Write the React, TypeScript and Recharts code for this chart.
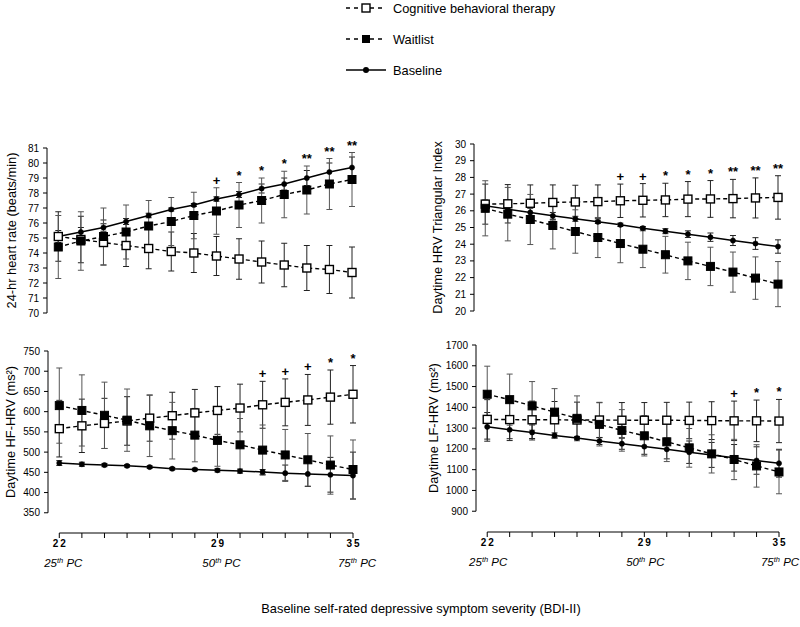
import { LineChart, Line, XAxis, YAxis, ErrorBar, LabelList, ReferenceLine } from 'recharts'

// baseline BDI-II score on the x axis, percentile labels under three of them
const bdi = [22, 23, 24, 25, 26, 27, 28, 29, 30, 31, 32, 33, 34, 35]
const percentileAt: Record<number, string> = { 22: '25', 29: '50', 35: '75' }

// 24-hr heart rate (beats/min)
const hrCbt = [75.1, 74.9, 74.7, 74.5, 74.3, 74.1, 74.0, 73.8, 73.6, 73.4, 73.2, 73.0, 72.9, 72.7]
const hrCbtErr = [1.65, 1.55, 1.5, 1.4, 1.35, 1.3, 1.3, 1.3, 1.35, 1.4, 1.45, 1.5, 1.6, 1.7]
const hrWl = [74.4, 74.8, 75.1, 75.4, 75.8, 76.1, 76.5, 76.8, 77.2, 77.5, 77.9, 78.2, 78.6, 78.9]
const hrWlErr = [2.1, 1.95, 1.9, 1.8, 1.7, 1.6, 1.55, 1.55, 1.5, 1.5, 1.55, 1.6, 1.7, 1.8]
const hrBase = [75.1, 75.4, 75.7, 76.1, 76.5, 76.9, 77.2, 77.6, 77.9, 78.3, 78.6, 79.0, 79.4, 79.7]
const hrBaseErr = [0.4, 0.3, 0.25, 0.2, 0.15, 0.1, 0.1, 0.15, 0.2, 0.3, 0.4, 0.5, 0.6, 0.7]
const hrSig = [null, null, null, null, null, null, null, '+', '*', '*', '*', '**', '**', '**']
const hrTicks = [70, 71, 72, 73, 74, 75, 76, 77, 78, 79, 80, 81]

// daytime HRV triangular index
const tiCbt = [26.4, 26.42, 26.45, 26.5, 26.53, 26.55, 26.6, 26.63, 26.65, 26.7, 26.71, 26.73, 26.77, 26.8]
const tiCbtErr = [1.2, 1.15, 1.1, 1.05, 1.0, 1.0, 1.0, 1.0, 1.0, 1.05, 1.1, 1.15, 1.2, 1.3]
const tiWl = [26.15, 25.8, 25.48, 25.12, 24.76, 24.4, 24.04, 23.7, 23.37, 23.0, 22.67, 22.33, 21.97, 21.61]
const tiWlErr = [1.65, 1.6, 1.5, 1.4, 1.3, 1.2, 1.15, 1.1, 1.1, 1.12, 1.15, 1.2, 1.27, 1.35]
const tiBase = [26.3, 26.1, 25.9, 25.7, 25.52, 25.34, 25.16, 24.96, 24.78, 24.6, 24.42, 24.22, 24.04, 23.86]
const tiBaseErr = [0.35, 0.3, 0.25, 0.2, 0.15, 0.1, 0.1, 0.1, 0.15, 0.2, 0.25, 0.3, 0.35, 0.4]
const tiSig = [null, null, null, null, null, null, '+', '+', '*', '*', '*', '**', '**', '**']
const tiTicks = [20, 21, 22, 23, 24, 25, 26, 27, 28, 29, 30]

// daytime HF-HRV (ms²)
const hfCbt = [558, 565, 571, 577, 584, 590, 597, 603, 609, 617, 623, 629, 636, 643]
const hfCbtErr = [70, 66, 62, 60, 57, 58, 58, 59, 59, 58, 58, 63, 67, 71]
const hfWl = [615, 603, 591, 579, 565, 553, 542, 529, 518, 505, 493, 481, 468, 457]
const hfWlErr = [93, 88, 82, 77, 76, 70, 66, 64, 65, 62, 63, 65, 72, 73]
const hfBase = [473, 470, 468, 466, 463, 459, 457, 455, 453, 451, 448, 446, 444, 442]
const hfBaseErr = [6, 5, 4, 3, 3, 3, 3, 4, 5, 6, 20, 31, 43, 58]
const hfSig = [null, null, null, null, null, null, null, null, null, '+', '+', '+', '*', '*']
const hfTicks = [350, 400, 450, 500, 550, 600, 650, 700, 750]

// daytime LF-HRV (ms²)
const lfCbt = [1342, 1341, 1340, 1340, 1339, 1339, 1338, 1338, 1338, 1337, 1336, 1335, 1335, 1334]
const lfCbtErr = [95, 92, 90, 88, 86, 85, 85, 85, 86, 88, 91, 95, 100, 104]
const lfWl = [1463, 1437, 1407, 1377, 1347, 1318, 1289, 1263, 1234, 1205, 1176, 1149, 1118, 1089]
const lfWlErr = [135, 123, 117, 113, 108, 104, 100, 97, 95, 93, 92, 97, 102, 105]
const lfBase = [1306, 1292, 1279, 1265, 1252, 1238, 1225, 1211, 1198, 1184, 1171, 1157, 1144, 1131]
const lfBaseErr = [69, 52, 36, 12, 8, 17, 27, 37, 46, 54, 60, 64, 66, 67]
const lfSig = [null, null, null, null, null, null, null, null, null, null, null, '+', '*', '*']
const lfTicks = [900, 1000, 1100, 1200, 1300, 1400, 1500, 1600, 1700]

const xDomain: [number, number] = [21.5, 35]
const INK = '#000'
const FONT = '"Liberation Sans", Arial, sans-serif'

function buildRows(cbt: number[], cbtErr: number[], wl: number[], wlErr: number[], base: number[], baseErr: number[], sig: (string | null)[]) {
  return bdi.map((x, i) => ({
    bdi: x,
    cbt: cbt[i],
    cbtErr: cbtErr[i],
    wl: wl[i],
    wlErr: wlErr[i],
    base: base[i],
    baseErr: baseErr[i],
    sig: sig[i],
    // significance marks sit just above the highest error bar
    sigTop: Math.max(cbt[i] + cbtErr[i], wl[i] + wlErr[i], base[i] + baseErr[i]),
  }))
}

function OpenSquare(p: any) {
  if (p.cx == null || p.cy == null) return null
  return <rect key={`o-${p.index}`} x={p.cx - 4} y={p.cy - 4} width={8} height={8} fill="#fff" stroke={INK} strokeWidth={1.4} />
}

function FilledSquare(p: any) {
  if (p.cx == null || p.cy == null) return null
  return <rect key={`f-${p.index}`} x={p.cx - 4} y={p.cy - 4} width={8} height={8} fill={INK} stroke={INK} strokeWidth={1} />
}

function BdiTick({ x, y, payload, pcShift }: any) {
  const pc = percentileAt[payload.value]
  if (!pc) return null
  return (
    <g transform={`translate(${x},${y})`}>
      <text textAnchor="middle" dx={1} dy="0.71em" fontSize={10} fontWeight="bold" letterSpacing={2} fill={INK}>
        {payload.value}
      </text>
      <text textAnchor="middle" dx={pcShift} y={27} fontSize={11.5} fontStyle="italic" fill={INK}>
        {pc}
        <tspan dy={-4} fontSize={7.5}>th</tspan>
        <tspan dy={4}> PC</tspan>
      </text>
    </g>
  )
}

function AxisTitle({ viewBox, text, dx, trimFrac }: any) {
  const cx = viewBox.x + dx
  const cy = viewBox.y + (viewBox.height * (1 - trimFrac)) / 2
  return (
    <text x={cx} y={cy} transform={`rotate(-90, ${cx}, ${cy})`} textAnchor="middle" dominantBaseline="central" fontSize={12.8} fill={INK}>
      {text}
    </text>
  )
}

type PanelProps = {
  data: ReturnType<typeof buildRows>
  left: number
  top: number
  height: number
  margin: { top: number; right: number; bottom: number; left: number }
  yAxisWidth: number
  yDomain: [number, number]
  yTicks: number[]
  title: string
  titleX: number
  withXAxis?: boolean
  pcShift?: number
}

function Panel({ data, left, top, height, margin, yAxisWidth, yDomain, yTicks, title, titleX, withXAxis, pcShift = 4 }: PanelProps) {
  // bottom panels leave a gap between the lowest y tick and the x axis
  const trimFrac = withXAxis ? (yTicks[0] - yDomain[0]) / (yDomain[1] - yDomain[0]) : 0
  return (
    <div style={{ position: 'absolute', left, top }}>
      <LineChart width={400} height={height} data={data} margin={margin}>
        {withXAxis ? (
          <XAxis
            type="number"
            dataKey="bdi"
            domain={xDomain}
            ticks={bdi}
            interval={0}
            axisLine={false}
            tickLine={{ stroke: INK }}
            tickSize={5}
            tickMargin={2}
            height={45}
            tick={(p: any) => <BdiTick {...p} pcShift={pcShift} />}
          />
        ) : (
          <XAxis type="number" dataKey="bdi" domain={xDomain} hide />
        )}
        <YAxis
          domain={yDomain}
          ticks={yTicks}
          interval={0}
          width={yAxisWidth}
          axisLine={withXAxis ? false : { stroke: INK }}
          tickLine={{ stroke: INK }}
          tickSize={4}
          tickMargin={4}
          tick={{ fontSize: 10, fill: INK }}
          label={{ content: (p: any) => <AxisTitle viewBox={p.viewBox} text={title} dx={titleX} trimFrac={trimFrac} /> }}
        />
        {withXAxis && (
          <ReferenceLine
            segment={[{ x: xDomain[0], y: yTicks[0] }, { x: xDomain[0], y: yTicks[yTicks.length - 1] }]}
            stroke={INK}
            ifOverflow="visible"
          />
        )}
        {withXAxis && (
          <ReferenceLine
            segment={[{ x: bdi[0], y: yDomain[0] }, { x: bdi[bdi.length - 1], y: yDomain[0] }]}
            stroke={INK}
            ifOverflow="visible"
          />
        )}
        <Line dataKey="base" stroke={INK} strokeWidth={1.5} dot={{ r: 2.6, fill: INK, stroke: INK, strokeWidth: 0.5 }} isAnimationActive={false}>
          <ErrorBar dataKey="baseErr" direction="y" width={3} stroke="#222" strokeWidth={1} />
        </Line>
        <Line dataKey="cbt" stroke={INK} strokeWidth={1.4} strokeDasharray="4 3" dot={OpenSquare} isAnimationActive={false}>
          <ErrorBar dataKey="cbtErr" direction="y" width={3} stroke="#222" strokeWidth={1} />
        </Line>
        <Line dataKey="wl" stroke={INK} strokeWidth={1.4} strokeDasharray="4 3" dot={FilledSquare} isAnimationActive={false}>
          <ErrorBar dataKey="wlErr" direction="y" width={3} stroke="#555" strokeWidth={1} />
        </Line>
        <Line dataKey="sigTop" stroke="none" dot={false} activeDot={false} isAnimationActive={false}>
          <LabelList dataKey="sig" position="top" offset={3} fill={INK} fontSize={13} fontWeight="bold" />
        </Line>
      </LineChart>
    </div>
  )
}

function LegendKey() {
  const rows = [
    { label: 'Cognitive behavioral therapy', kind: 'open', y: 8 },
    { label: 'Waitlist', kind: 'filled', y: 39 },
    { label: 'Baseline', kind: 'line', y: 70 },
  ]
  return (
    <svg width={800} height={90} style={{ position: 'absolute', left: 0, top: 0 }}>
      {rows.map((r) => (
        <g key={r.label}>
          <line x1={346} x2={386} y1={r.y} y2={r.y} stroke={INK} strokeWidth={1.5} strokeDasharray={r.kind === 'line' ? undefined : '4 4'} />
          {r.kind === 'open' && <rect x={362} y={r.y - 4} width={8} height={8} fill="#fff" stroke={INK} strokeWidth={1.4} />}
          {r.kind === 'filled' && <rect x={362} y={r.y - 4} width={8} height={8} fill={INK} />}
          {r.kind === 'line' && <circle cx={366} cy={r.y} r={3} fill={INK} />}
          <text x={393} y={r.y} dominantBaseline="central" fontSize={12.8} fill={INK}>
            {r.label}
          </text>
        </g>
      ))}
    </svg>
  )
}

export default function App() {
  return (
    <div style={{ position: 'absolute', left: 0, top: 0, width: 800, height: 627, background: '#fff', fontFamily: FONT }}>
      <LegendKey />
      <Panel
        data={buildRows(hrCbt, hrCbtErr, hrWl, hrWlErr, hrBase, hrBaseErr, hrSig)}
        left={0}
        top={115}
        height={205}
        margin={{ top: 33, right: 48, bottom: 7, left: 0 }}
        yAxisWidth={47}
        yDomain={[70, 81]}
        yTicks={hrTicks}
        title="24-hr heart rate (beats/min)"
        titleX={11}
      />
      <Panel
        data={buildRows(tiCbt, tiCbtErr, tiWl, tiWlErr, tiBase, tiBaseErr, tiSig)}
        left={400}
        top={115}
        height={205}
        margin={{ top: 29, right: 22, bottom: 9, left: 0 }}
        yAxisWidth={74}
        yDomain={[20, 30]}
        yTicks={tiTicks}
        title="Daytime HRV Triangular Index"
        titleX={37}
      />
      <Panel
        data={buildRows(hfCbt, hfCbtErr, hfWl, hfWlErr, hfBase, hfBaseErr, hfSig)}
        left={0}
        top={340}
        height={250}
        margin={{ top: 11, right: 47, bottom: 12, left: 0 }}
        yAxisWidth={48}
        yDomain={[300, 750]}
        yTicks={hfTicks}
        title="Daytime HF-HRV (ms²)"
        titleX={11}
        withXAxis
      />
      <Panel
        data={buildRows(lfCbt, lfCbtErr, lfWl, lfWlErr, lfBase, lfBaseErr, lfSig)}
        left={400}
        top={340}
        height={250}
        margin={{ top: 5, right: 21, bottom: 13, left: 0 }}
        yAxisWidth={76}
        yDomain={[800, 1700]}
        yTicks={lfTicks}
        title="Daytime LF-HRV (ms²)"
        titleX={34}
        withXAxis
        pcShift={1}
      />
      <div style={{ position: 'absolute', left: 0, width: 842, top: 601, textAlign: 'center', fontSize: 12.8, color: INK }}>
        Baseline self-rated depressive symptom severity (BDI-II)
      </div>
    </div>
  )
}
